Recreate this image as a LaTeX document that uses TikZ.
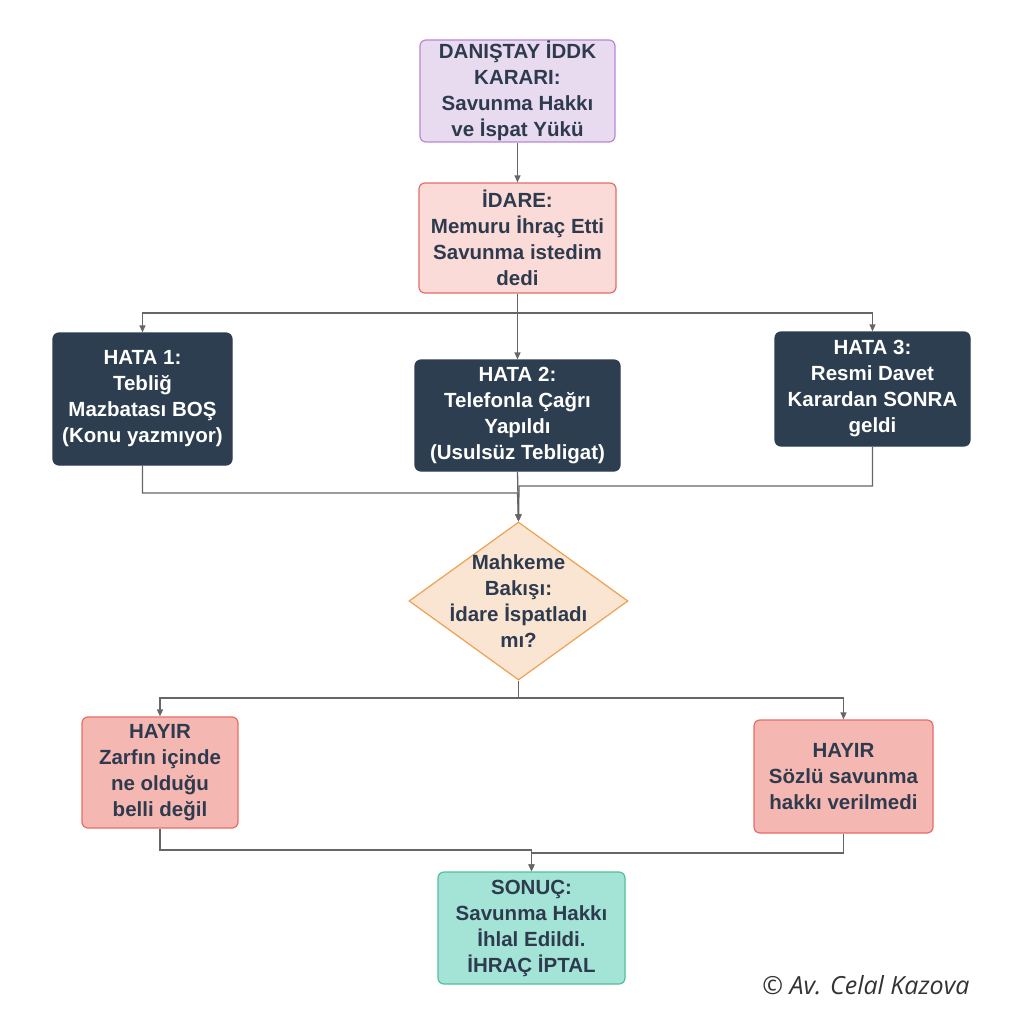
\documentclass[tikz,border=0pt]{standalone}
\usepackage{fontspec}
\setmainfont{Liberation Sans}
\newfontfamily\signfont{Open Sans}
\usepackage{xcolor}
\usetikzlibrary{
  arrows.meta,
  positioning,
  shapes.geometric,
  calc
}
\definecolor{InkDark}{HTML}{2E3B4E}
\definecolor{NavyBox}{HTML}{2C3E50}
\definecolor{LilacFill}{HTML}{E8DAEF}
\definecolor{LilacLine}{HTML}{B886D6}
\definecolor{RoseFill}{HTML}{FADBD8}
\definecolor{RoseLine}{HTML}{EA6B66}
\definecolor{SalmonFill}{HTML}{F5B7B1}
\definecolor{PeachFill}{HTML}{FAE5D3}
\definecolor{PeachLine}{HTML}{F0A150}
\definecolor{MintFill}{HTML}{A3E4D7}
\definecolor{MintLine}{HTML}{52BE9F}
\definecolor{WireGray}{HTML}{666666}

\tikzset{
  box/.style={rounded corners=6pt,line width=1.2pt,align=center,
              font=\fontsize{20.5}{26}\selectfont\bfseries,text=InkDark,inner sep=0pt},
  rulebox/.style={box,fill=LilacFill,draw=LilacLine},
  idarebox/.style={box,fill=RoseFill,draw=RoseLine},
  hatabox/.style={box,fill=NavyBox,draw=NavyBox,text=white},
  hayirbox/.style={box,fill=SalmonFill,draw=RoseLine},
  sonucbox/.style={box,fill=MintFill,draw=MintLine},
  decision/.style={diamond,fill=PeachFill,draw=PeachLine,line width=1.2pt,inner sep=0pt},
  wire/.style={draw=WireGray,line width=1.3pt,-{Triangle[length=7pt,width=6pt]}}
}

\begin{document}
\begin{tikzpicture}[x=1pt,y=-1pt]
  \useasboundingbox (0,0) rectangle (1024,1024);

  % boxes
  \node[rulebox,minimum width=195pt,minimum height=102pt] (karar) at (517.5,91)
    {DANIŞTAY İDDK\\KARARI:\\Savunma Hakkı\\ve İspat Yükü};
  \node[idarebox,minimum width=197pt,minimum height=110pt] (idare) at (517.5,238)
    {İDARE:\\Memuru İhraç Etti\\Savunma istedim\\dedi};

  \node[hatabox,minimum width=179pt,minimum height=132pt] (hata1) at (142.5,399)
    {HATA 1:\\Tebliğ\\Mazbatası BOŞ\\(Konu yazmıyor)};
  \node[hatabox,minimum width=205pt,minimum height=111pt] (hata2) at (517.5,415.5)
    {HATA 2:\\Telefonla Çağrı\\Yapıldı\\(Usulsüz Tebligat)};
  \node[hatabox,minimum width=195pt,minimum height=114pt] (hata3) at (872.5,389)
    {HATA 3:\\Resmi Davet\\Karardan SONRA\\geldi};

  \node[decision,minimum width=219pt,minimum height=158pt,
        label={[align=center,text=InkDark,font=\fontsize{20.5}{26}\selectfont\bfseries]center:Mahkeme\\Bakışı:\\İdare İspatladı\\mı?}]
        (bakis) at (518.5,601) {};

  \node[hayirbox,minimum width=156pt,minimum height=111pt] (hayir1) at (160,772.5)
    {HAYIR\\Zarfın içinde\\ne olduğu\\belli değil};
  \node[hayirbox,minimum width=179pt,minimum height=113pt] (hayir2) at (843.5,776.5)
    {HAYIR\\Sözlü savunma\\hakkı verilmedi};

  \node[sonucbox,minimum width=187pt,minimum height=112pt] (sonuc) at (531.5,928)
    {SONUÇ:\\Savunma Hakkı\\İhlal Edildi.\\İHRAÇ İPTAL};

  \node[anchor=east,font=\signfont\itshape\fontsize{25}{30}\selectfont,text=black!80] (imza) at (973,985)
    {© Av. Celal Kazova};

  % connectors
  \draw[wire] (karar.south) -- (idare.north);

  \coordinate (dal1) at (517.5,313);
  \draw[wire] (idare.south) -- (dal1) -| (hata1.north);
  \draw[wire] (dal1) -| (hata3.north);
  \draw[wire] (idare.south) -- (hata2.north);

  \draw[wire] (hata1.south) |- (517.5,493) -- (bakis.north);
  \draw[wire] (hata2.south) -- (bakis.north);
  \draw[wire] (hata3.south) |- (519,486) -- (bakis.north);

  \coordinate (dal2) at (518.5,698);
  \draw[wire] (bakis.south) -- (dal2) -| (hayir1.north);
  \draw[wire] (dal2) -| (hayir2.north);

  \draw[wire] (hayir1.south) |- (531.5,850) -- (sonuc.north);
  \draw[wire] (hayir2.south) |- (531.5,853) -- (sonuc.north);
\end{tikzpicture}
\end{document}
